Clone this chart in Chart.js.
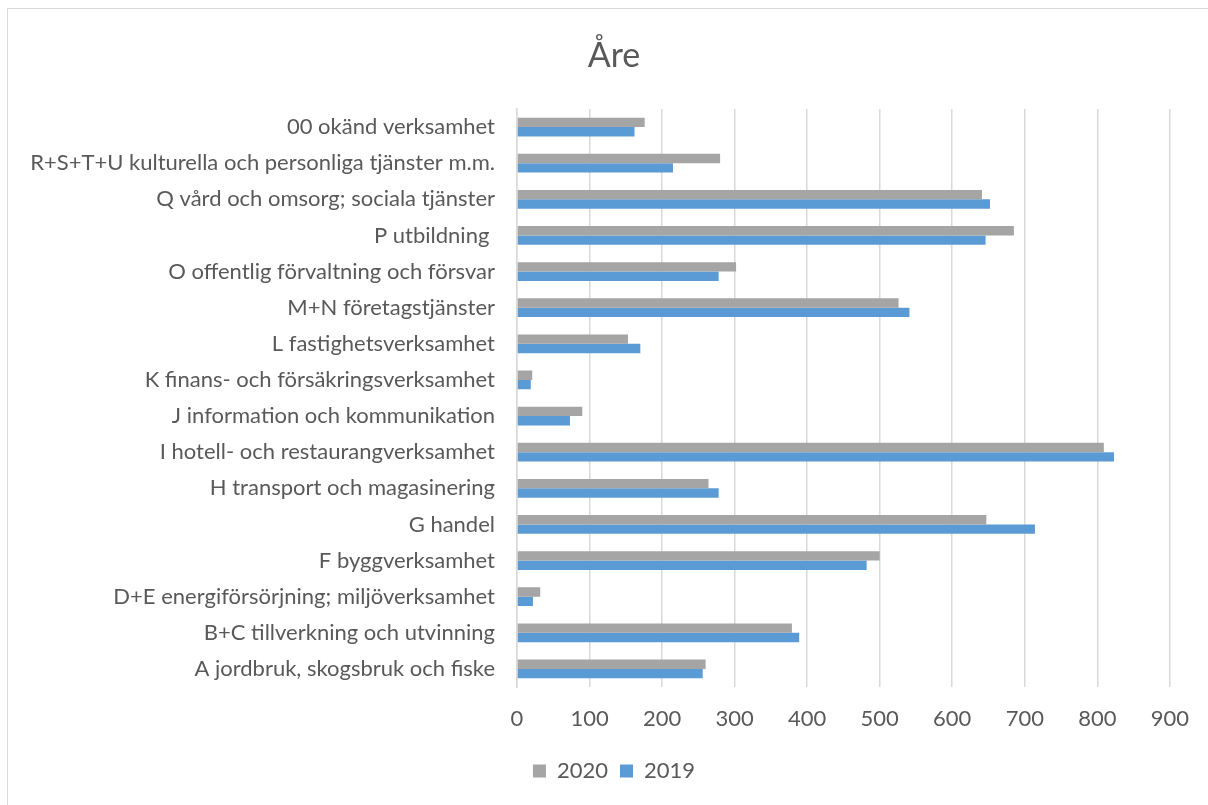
<!DOCTYPE html>
<html lang="sv">
<head>
<meta charset="utf-8">
<title>Åre</title>
<script src="https://cdn.jsdelivr.net/npm/chart.js@4.4.1/dist/chart.umd.min.js"></script>
<style>
  html, body { margin: 0; padding: 0; background: #fff; overflow: hidden; }
  .ram { position: absolute; left: 7px; top: 8px; width: 1300px; height: 900px; border: 1.5px solid #d9d9d9; pointer-events: none; }
  canvas { display: block; }
</style>
</head>
<body>
<div style="position: relative; width: 1208px; height: 805px;">
  <canvas id="graf" width="1208" height="805"></canvas>
  <div class="ram"></div>
</div>
<script>
// branscher, uppifrån och ned
const branscher = [
  "00 okänd verksamhet",
  "R+S+T+U kulturella och personliga tjänster m.m.",
  "Q vård och omsorg; sociala tjänster",
  "P utbildning ",
  "O offentlig förvaltning och försvar",
  "M+N företagstjänster",
  "L fastighetsverksamhet",
  "K finans- och försäkringsverksamhet",
  "J information och kommunikation",
  "I hotell- och restaurangverksamhet",
  "H transport och magasinering",
  "G handel",
  "F byggverksamhet",
  "D+E energiförsörjning; miljöverksamhet",
  "B+C tillverkning och utvinning",
  "A jordbruk, skogsbruk och fiske"
];

const antal2020 = [176, 280, 641, 685, 302, 526, 153, 21, 90, 809, 264, 647, 500, 32, 379, 260];
const antal2019 = [162, 215, 652, 646, 278, 541, 170, 19, 73, 823, 278, 714, 482, 22, 389, 256];

const xMin = 0;
const xMax = 900;
const xSteg = 100;

Chart.defaults.font.family = "Lato, 'Open Sans', sans-serif";
Chart.defaults.color = "#595959";

const ctx = document.getElementById("graf").getContext("2d");

new Chart(ctx, {
  type: "bar",
  data: {
    labels: branscher,
    datasets: [
      { label: "2020", data: antal2020, backgroundColor: "#a5a5a5" },
      { label: "2019", data: antal2019, backgroundColor: "#5b9bd5" }
    ]
  },
  options: {
    indexAxis: "y",
    responsive: false,
    animation: false,
    categoryPercentage: 0.52,
    barPercentage: 1,
    layout: { padding: { left: 20, right: 0, top: 0, bottom: 13 } },
    plugins: {
      title: {
        display: true,
        text: "Åre",
        font: { size: 34, weight: "normal" },
        color: "#595959",
        padding: { top: 36, bottom: 32.2 }
      },
      legend: {
        position: "bottom",
        labels: {
          boxWidth: 13,
          boxHeight: 13,
          padding: 12,
          font: { size: 22 },
          color: "#595959"
        }
      },
      tooltip: { enabled: false }
    },
    scales: {
      x: {
        min: xMin,
        max: xMax,
        ticks: { stepSize: xSteg, padding: 19, font: { size: 22 }, color: "#595959" },
        grid: { color: "#d9d9d9", lineWidth: 1.5, drawTicks: false },
        border: { display: false },
        afterFit: (skala) => { skala.height = 61; }
      },
      y: {
        ticks: { padding: 22, font: { size: 22 }, color: "#595959", autoSkip: false },
        grid: { display: false, drawTicks: false },
        border: { color: "#d9d9d9", width: 1.5 },
        // fast bredd så att stapelytan börjar på samma ställe
        afterFit: (skala) => { skala.width = 497; }
      },
      // tom axel till höger, ger luft efter 900
      hoger: {
        type: "category",
        position: "right",
        ticks: { display: false },
        grid: { display: false, drawTicks: false },
        border: { display: false },
        afterFit: (skala) => { skala.width = 38; }
      }
    }
  }
});
</script>
</body>
</html>
